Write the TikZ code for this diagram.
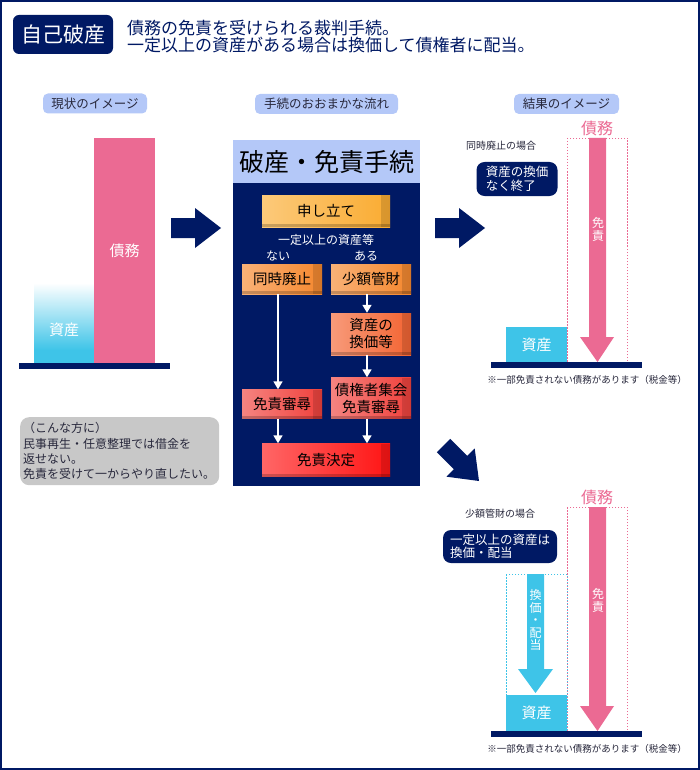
\documentclass[tikz,border=0pt]{standalone}
\usepackage{fontspec}
\setmainfont{Noto Sans CJK JP}
\usetikzlibrary{arrows.meta}
\definecolor{navy}{RGB}{0,25,100}
\definecolor{pinkc}{RGB}{235,106,147}
\definecolor{cyanc}{RGB}{62,196,232}
\definecolor{lblue}{RGB}{180,200,248}
\definecolor{grayc}{RGB}{200,200,200}
\definecolor{dtext}{RGB}{40,40,60}
\definecolor{cA}{RGB}{250,172,50}
\definecolor{cB}{RGB}{245,135,45}
\definecolor{cC}{RGB}{243,100,50}
\definecolor{cD}{RGB}{240,65,60}
\definecolor{cE}{RGB}{255,20,20}
\newcommand\fsz[2]{\fontsize{#1pt}{#2pt}\selectfont}
\tikzset{
  every node/.style={inner sep=0pt},
  lbl/.style={fill=lblue, rounded corners=5pt, minimum height=20pt, text=dtext, font=\fsz{12.5}{14}},
  flow/.style={left color=#1!65!white, right color=#1, text=black, font=\fsz{14.5}{17}, align=center,
    path picture={\fill[black,opacity=0.13] ([xshift=-9pt]path picture bounding box.north east) rectangle (path picture bounding box.south east);
                  \fill[black,opacity=0.2] ([yshift=3pt]path picture bounding box.south west) rectangle (path picture bounding box.south east);}},
  warr/.style={draw=white, line width=1.5pt, -{Triangle[width=9pt,length=8pt]}},
  navybox/.style={fill=navy, rounded corners=8pt, text=white, align=left, font=\fsz{12.5}{13.5}},
  wtext/.style={text=white, font=\fsz{15}{16}},
  vtext/.style={text=white, align=center, font=\fsz{12}{13}},
  small/.style={text=dtext, font=\fsz{10}{11}},
  note/.style={text=dtext, font=\fsz{9.5}{11}},
  pinkdot/.style={draw=pinkc, line width=0.8pt, dash pattern=on 1.5pt off 1.5pt},
  cyandot/.style={draw=cyanc, line width=0.8pt, dash pattern=on 1.5pt off 1.5pt},
}
\begin{document}
\begin{tikzpicture}[x=1pt,y=-1pt]
\useasboundingbox (0,0) rectangle (700,770);
\fill[white] (0,0) rectangle (700,770);
\draw[navy, line width=2pt] (1,1) rectangle (699,769);

% header
\node[fill=navy, rounded corners=6pt, minimum width=100pt, minimum height=39pt, text=white, font=\fsz{21}{22}] (title) at (63,34.5) {自己破産};
\node[anchor=west, align=left, text=navy, font=\fsz{17}{17}] (sub) at (127,36.5) {債務の免責を受けられる裁判手続。\\一定以上の資産がある場合は換価して債権者に配当。};

% left: current image
\node[lbl, minimum width=104pt] (lbl1) at (95,103.5) {現状のイメージ};
\shade[top color=white, bottom color=cyanc] (34,283) rectangle (94,350);
\fill[cyanc] (34,349.5) rectangle (94,363);
\node[wtext] (asset0) at (64,330) {資産};
\node[fill=pinkc, minimum width=61pt, minimum height=225pt, wtext] (debt0) at (124.5,250.5) {債務};
\fill[navy] (19,363) rectangle (170,369);

% arrows
\fill[navy] (171,218) -- (195,218) -- (195,208) -- (221,228) -- (195,248) -- (195,238) -- (171,238) -- cycle;
\fill[navy] (435,218) -- (459,218) -- (459,208) -- (485,228) -- (459,248) -- (459,238) -- (435,238) -- cycle;
\fill[navy] (436.9,452.3) -- (450.3,438.9) -- (467.3,455.9) -- (474.7,448.5) -- (479,481) -- (446.5,476.7) -- (453.9,469.3) -- cycle;

% note box
\node[fill=grayc, rounded corners=9pt, anchor=north west, minimum width=199pt, minimum height=68pt, text width=193pt, inner xsep=3pt, align=left, text=dtext, font=\fsz{12}{15.3}] (who) at (20,417) {（こんな方に）\\民事再生・任意整理では借金を\\返せない。\\免責を受けて一からやり直したい。};

% middle: flow
\node[lbl, minimum width=143pt] (lbl2) at (326.5,104) {手続のおおまかな流れ};
\fill[navy] (233,183) rectangle (420,486);
\node[fill=lblue, anchor=north west, minimum width=187pt, minimum height=43pt, text=black, font=\fsz{25}{26}] (phead) at (233,140) {破産・免責手続};
\node[flow=cA, minimum width=128pt, minimum height=32pt] (apply) at (326,211) {申し立て};
\node[text=white, font=\fsz{12}{13}] (cond) at (326,240) {一定以上の資産等};
\node[text=white, font=\fsz{12}{13}] (nai) at (278,256) {ない};
\node[text=white, font=\fsz{12}{13}] (aru) at (366,256) {ある};
\node[flow=cB, minimum width=80pt, minimum height=30pt] (doji) at (282,279) {同時廃止};
\node[flow=cB, minimum width=80pt, minimum height=30pt] (shogaku) at (371,279) {少額管財};
\node[flow=cC, minimum width=80pt, minimum height=42pt] (kanka) at (371,334) {資産の\\換価等};
\node[flow=cD, minimum width=80pt, minimum height=41pt] (saiken) at (371,398) {債権者集会\\免責審尋};
\node[flow=cD, minimum width=80pt, minimum height=29pt] (men1) at (282,404) {免責審尋};
\node[flow=cE, minimum width=128pt, minimum height=33pt] (kettei) at (326,460) {免責決定};
\draw[warr] ([xshift=-4pt]doji.south) -- ([xshift=-4pt]men1.north);
\draw[warr] ([xshift=-4pt]shogaku.south) -- ([xshift=-4pt]kanka.north);
\draw[warr] ([xshift=-4pt]kanka.south) -- ([xshift=-4pt]saiken.north);
\draw[warr] ([xshift=-4pt]men1.south) -- ([xshift=-4pt]men1.south |- kettei.north);
\draw[warr] ([xshift=-4pt]saiken.south) -- ([xshift=-4pt]saiken.south |- kettei.north);

% right upper
\node[lbl, minimum width=105pt] (lbl3) at (566.5,104) {結果のイメージ};
\node[text=pinkc, font=\fsz{16}{17}] (debt1) at (597,128) {債務};
\draw[pinkdot] (567,138) rectangle (627,362);
\fill[pinkc] (589,138) -- (606,138) -- (606,337) -- (614,337) -- (597.5,362) -- (580,337) -- (589,337) -- cycle;
\node[vtext] (men2) at (598,229) {免\\責};
\node[small, anchor=west] (case1) at (466,146) {同時廃止の場合};
\node[navybox, minimum width=81pt, minimum height=34pt] (nb1) at (517,179) {資産の換価\\なく終了};
\node[fill=cyanc, minimum width=61pt, minimum height=35pt, wtext] (asset1) at (536.5,344.5) {資産};
\fill[navy] (491,362) rectangle (642,368);
\node[note] (note1) at (587,380) {※一部免責されない債務があります（税金等）};

% right lower
\node[small, anchor=west] (case2) at (465,514) {少額管財の場合};
\node[navybox, minimum width=114pt, minimum height=33pt] (nb2) at (500,546.5) {一定以上の資産は\\換価・配当};
\node[text=pinkc, font=\fsz{16}{17}] (debt2) at (597,497) {債務};
\draw[pinkdot] (567,507) rectangle (627,731);
\fill[pinkc] (589,507) -- (606,507) -- (606,706) -- (614,706) -- (597.5,731) -- (580,706) -- (589,706) -- cycle;
\node[vtext] (men3) at (598,600) {免\\責};
\draw[cyandot] (506,574) rectangle (567,731);
\fill[cyanc] (527,574) -- (544,574) -- (544,669) -- (553,669) -- (535.5,693) -- (518,669) -- (527,669) -- cycle;
\node[vtext, font=\fsz{12}{12.5}] (kanka2) at (535.5,620) {換\\価\\・\\配\\当};
\node[fill=cyanc, minimum width=61pt, minimum height=36pt, wtext] (asset2) at (536.5,713) {資産};
\fill[navy] (491,731) rectangle (642,737);
\node[note] (note2) at (587,749) {※一部免責されない債務があります（税金等）};
\end{tikzpicture}
\end{document}
